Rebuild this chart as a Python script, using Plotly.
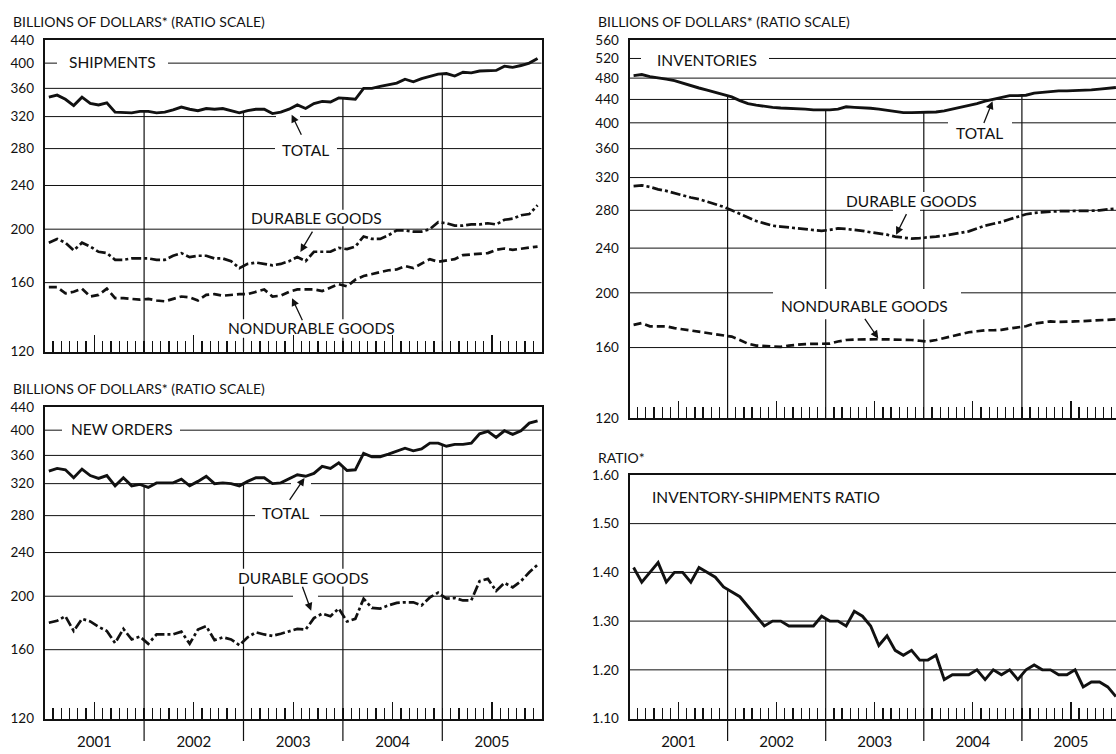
import numpy as np
import plotly.graph_objects as go

W, H = 1116, 754
FONT = "Lato"
BLACK = "#111111"

years = ["2001", "2002", "2003", "2004", "2005"]
year_ticks = [6, 18, 30, 42, 54]          # mid-year (July 1), month index
year_bounds = [12, 24, 36, 48]

# ---------------- data (monthly, Jan 2001 - Dec 2005), billions of dollars
ship_total = [347, 350, 344, 335, 347, 338, 336, 339, 326, 326, 325, 327,
              327, 325, 326, 329, 333, 330, 328, 331, 330, 331, 328, 325,
              328, 330, 330, 324, 326, 330, 336, 331, 338, 341, 340, 346,
              345, 344, 360, 360, 363, 366, 368, 374, 370, 375, 378, 382,
              383, 379, 385, 384, 387, 387, 388, 395, 393, 396, 400, 408]
ship_durable = [189, 192, 189, 183, 189, 186, 182, 181, 176, 176, 177, 177,
                177, 176, 176, 179, 181, 178, 179, 179, 177, 177, 175, 170,
                173, 174, 173, 172, 173, 175, 178, 175, 182, 182, 182, 185,
                184, 186, 194, 192, 192, 195, 199, 199, 198, 198, 200, 206,
                205, 203, 203, 204, 204, 205, 204, 208, 209, 212, 213, 221]
ship_nondurable = [157, 157, 153, 154, 156, 151, 152, 156, 150, 150, 149.5, 149,
                   149.5, 148.5, 148, 149.5, 151, 150.5, 148.5, 152, 152.5, 151.5, 152, 152.5,
                   152.5, 154, 155.5, 151, 151.5, 154, 155.5, 155.5, 155.5, 154.5, 157, 159,
                   157.5, 162, 164.5, 166, 167, 168.5, 169, 171.5, 170, 173, 176.5, 174.5,
                   175.5, 176.5, 179.5, 180, 180.5, 181, 183.5, 184.5, 183.5, 184.5, 185, 186]
orders_total = [337, 341, 339, 328, 340, 331, 327, 331, 317, 328, 317, 319,
                315, 321, 321, 321, 326, 317, 323, 330, 320, 321, 320, 317,
                323, 328, 328, 320, 321, 326, 332, 330, 334, 344, 341, 349,
                338, 339, 363, 358, 358, 362, 367, 371, 367, 370, 379, 379,
                374, 377, 377, 379, 394, 398, 388, 399, 393, 399, 412, 416]
orders_durable = [179, 180.5, 184, 173, 182, 180, 176, 173, 164.5, 174.5, 167, 169,
                  164, 170.5, 170.5, 170.5, 172.5, 164, 174, 176.5, 166.5, 168.5, 167, 163,
                  168.5, 172, 170.5, 169.5, 171, 172.5, 174.5, 174, 182.5, 186, 184, 190,
                  180, 182, 198, 190.5, 190, 192.5, 194.5, 195, 195, 192.5, 199, 203,
                  198, 198.5, 196.5, 196.5, 213, 215, 204.5, 211.5, 207.5, 213, 221, 228]
inv_total = [485, 487, 483, 481, 478, 475, 470, 465, 461, 457, 453, 448,
             444.6, 438, 432.6, 430, 427.6, 426, 425, 424.5, 424.5, 423, 421.6, 421.6,
             421.6, 423, 427, 426, 425.6, 424.5, 423, 421, 419, 417, 417, 417,
             417, 418, 420, 423, 426, 430, 432.6, 437, 440, 443, 447, 447,
             447.6, 451.6, 453, 454.6, 455.6, 455.6, 456, 457.5, 457.5, 459, 461, 462]
inv_durable = [309, 310, 308, 305, 303, 300, 297.5, 295, 293, 290, 287, 284,
               280, 276, 272, 268, 265.5, 263, 262, 261, 260.5, 259.5, 258.5, 257.5,
               258.5, 260, 259.5, 258.7, 257.5, 256, 255, 253.5, 251.5, 250.5, 249.5, 250,
               250.5, 251.5, 252.5, 254, 255, 257, 260, 263, 265, 267, 270, 273,
               275.5, 277, 278, 278.5, 279, 279, 279, 279, 279.5, 280, 281, 282]
inv_nondurable = [175.5, 176.8, 174.5, 174.4, 174.4, 173.2, 172.3, 171.5, 170.7, 169.8, 168.8, 168,
                  167.3, 165, 162.5, 161.3, 161, 160.7, 160.4, 161.3, 162, 162.3, 162.4, 162.4,
                  162.6, 164, 165, 165.3, 165.5, 165.6, 165.5, 165.4, 165.4, 165.4, 165, 164.5,
                  164, 165, 166.3, 167.5, 168.8, 170.3, 171, 171.7, 171.7, 172, 173, 173.8,
                  174.5, 176.5, 177.3, 178, 177.6, 177.6, 178, 178.2, 178.5, 178.8, 179.1, 179.5]
is_ratio = [1.41, 1.38, 1.40, 1.42, 1.38, 1.40, 1.40, 1.38, 1.41, 1.40, 1.39, 1.37,
            1.36, 1.35, 1.33, 1.31, 1.29, 1.30, 1.30, 1.29, 1.29, 1.29, 1.29, 1.31,
            1.30, 1.30, 1.29, 1.32, 1.31, 1.29, 1.25, 1.27, 1.24, 1.23, 1.24, 1.22,
            1.22, 1.23, 1.18, 1.19, 1.19, 1.19, 1.20, 1.18, 1.20, 1.19, 1.20, 1.18,
            1.20, 1.21, 1.20, 1.20, 1.19, 1.19, 1.20, 1.165, 1.175, 1.175, 1.165, 1.145]

dollar_ticks_left = [120, 160, 200, 240, 280, 320, 360, 400, 440]
dollar_ticks_right = [120, 160, 200, 240, 280, 320, 360, 400, 440, 480, 520, 560]
ratio_ticks = [1.10, 1.20, 1.30, 1.40, 1.50, 1.60]

months = [i + 0.5 for i in range(60)]

# ---------------- panel geometry (pixels in the 1116 x 754 page)
R_END = (1116 - 629.5) / 8.175          # months visible in the (cut-off) right panels
P = {
    "TL": dict(xa="x", ya="y", x0=44.7, x1=541.7, y0=33, y1=351, lo=120, hi=440, log=True, xr=60),
    "BL": dict(xa="x2", ya="y2", x0=44.7, x1=541.7, y0=408, y1=726, lo=120, hi=440, log=True, xr=60),
    "TR": dict(xa="x3", ya="y3", x0=629.5, x1=1116, y0=33, y1=419, lo=120, hi=560, log=True, xr=R_END),
    "BR": dict(xa="x4", ya="y4", x0=629.5, x1=1116, y0=477, y1=726, lo=1.10, hi=1.60, log=False, xr=R_END),
}


def px(x):
    return x / W


def py(y):
    return 1 - y / H


def xm(p, xpx):
    g = P[p]
    return (xpx - g["x0"]) / (g["x1"] - g["x0"]) * g["xr"]


def yv(p, ypx):
    g = P[p]
    f = (g["y1"] - ypx) / (g["y1"] - g["y0"])
    if g["log"]:
        return g["lo"] * (g["hi"] / g["lo"]) ** f
    return g["lo"] + f * (g["hi"] - g["lo"])


fig = go.Figure()

# ---------------- grid lines (with the gaps left around labels / arrows), as traces
grid_ticks = {"TL": dollar_ticks_left, "BL": dollar_ticks_left, "TR": dollar_ticks_right, "BR": ratio_ticks}
grid_gaps = {
    ("TL", 400): [(57, 168)], ("TL", 280): [(275, 337)], ("TL", 320): [(276, 300)],
    ("BL", 400): [(62, 180)], ("BL", 280): [(255, 320)], ("BL", 200): [(293, 318)],
    ("BL", 320): [(291, 311)],
    ("TR", 520): [(641, 769)], ("TR", 400): [(948, 1012)], ("TR", 280): [(893, 920)],
    ("TR", 200): [(773, 961)],
}
# divider gaps (pixel y-ranges) behind labels
div_gaps = {
    ("TL", 24): [(318, 337)], ("TL", 36): [(206, 223), (318, 337)],
    ("BL", 24): [(573, 591)], ("BL", 36): [(573, 591)],
    ("TR", 24): [(287, 318)], ("TR", 36): [(188, 206), (287, 318)],
}
top_series = {"TL": ship_total, "BL": orders_total, "TR": inv_total, "BR": is_ratio}

for p, g in P.items():
    gx, gy = [], []
    for v in grid_ticks[p][1:-1]:
        cuts = [0]
        for a, b in sorted(grid_gaps.get((p, v), [])):
            cuts += [xm(p, a), xm(p, b)]
        cuts.append(g["xr"])
        for a, b in zip(cuts[0::2], cuts[1::2]):
            gx += [a, b, None]
            gy += [v, v, None]
    fig.add_trace(go.Scatter(x=gx, y=gy, mode="lines", line=dict(color=BLACK, width=1),
                             xaxis=g["xa"], yaxis=g["ya"], hoverinfo="skip", showlegend=False))
    dx, dy = [], []
    top = top_series[p]
    for k in year_bounds:
        if g["log"]:
            vtop = float(np.sqrt(top[k - 1] * top[k]))
        else:
            vtop = (top[k - 1] + top[k]) / 2
        cuts = [g["lo"]]
        for a, b in sorted(div_gaps.get((p, k), []), reverse=True):
            cuts += [yv(p, b), yv(p, a)]
        cuts.append(vtop)
        for a, b in zip(cuts[0::2], cuts[1::2]):
            if a < vtop:
                dx += [k, k, None]
                dy += [a, min(b, vtop), None]
    fig.add_trace(go.Scatter(x=dx, y=dy, mode="lines", line=dict(color=BLACK, width=1.2),
                             xaxis=g["xa"], yaxis=g["ya"], hoverinfo="skip", showlegend=False))

# ---------------- data lines
total_style = dict(color=BLACK, width=2.9)
dur_style = dict(color=BLACK, width=2.7, dash="10px,3px,3px,3px")
nondur_style = dict(color=BLACK, width=2.7, dash="8px,4px")
series = [
    ("TL", ship_total, total_style), ("TL", ship_durable, dur_style), ("TL", ship_nondurable, nondur_style),
    ("BL", orders_total, total_style), ("BL", orders_durable, dur_style),
    ("TR", inv_total, total_style), ("TR", inv_durable, dur_style), ("TR", inv_nondurable, nondur_style),
    ("BR", is_ratio, total_style),
]
for p, vals, style in series:
    fig.add_trace(go.Scatter(x=months, y=vals, mode="lines", line=style,
                             xaxis=P[p]["xa"], yaxis=P[p]["ya"], hoverinfo="skip", showlegend=False))

# divider extensions below the bottom axes
shapes = []
for p in ("BL", "BR"):
    for k in year_bounds:
        shapes.append(dict(type="line", xref=P[p]["xa"], yref="paper", x0=k, x1=k,
                           y0=py(749), y1=py(726), line=dict(color=BLACK, width=1.2), layer="above"))
fig.update_layout(shapes=shapes)


def xaxis(p, labels):
    g = P[p]
    return dict(domain=[px(g["x0"]), min(1.0, px(g["x1"]))], range=[0, g["xr"]], anchor=g["ya"],
                showgrid=False, zeroline=False,
                showline=True, linecolor=BLACK, linewidth=2, mirror=True,
                tickmode="array", tickvals=year_ticks, ticktext=years,
                ticks="inside", ticklen=17, tickwidth=1.3, tickcolor=BLACK,
                showticklabels=labels, ticklabelstandoff=8,
                tickfont=dict(family=FONT, size=15, color=BLACK),
                minor=dict(tickmode="linear", tick0=0, dtick=1, ticks="inside", ticklen=11,
                           tickwidth=1.3, tickcolor=BLACK, showgrid=False),
                fixedrange=True)


def yaxis(p, vals, text, mirror):
    g = P[p]
    if g["log"]:
        rng, typ = [np.log10(g["lo"]), np.log10(g["hi"])], "log"
    else:
        rng, typ = [g["lo"], g["hi"]], "linear"
    return dict(domain=[py(g["y1"]), py(g["y0"])], type=typ, range=rng, anchor=g["xa"],
                tickmode="array", tickvals=vals, ticktext=text,
                showgrid=False, zeroline=False,
                showline=True, linecolor=BLACK, linewidth=2, mirror=mirror, ticks="",
                ticklabelstandoff=6, tickfont=dict(family=FONT, size=13.5, color=BLACK),
                fixedrange=True)


fig.update_layout(
    width=W, height=H, margin=dict(l=0, r=0, t=0, b=0),
    paper_bgcolor="white", plot_bgcolor="white",
    font=dict(family=FONT, color=BLACK),
    showlegend=False,
    xaxis=xaxis("TL", False),
    xaxis2=xaxis("BL", True),
    xaxis3=xaxis("TR", False),
    xaxis4=xaxis("BR", True),
    yaxis=yaxis("TL", dollar_ticks_left, [str(v) for v in dollar_ticks_left], True),
    yaxis2=yaxis("BL", dollar_ticks_left, [str(v) for v in dollar_ticks_left], True),
    yaxis3=yaxis("TR", dollar_ticks_right, [str(v) for v in dollar_ticks_right], False),
    yaxis4=yaxis("BR", ratio_ticks, [f"{v:.2f}" for v in ratio_ticks], False),
)


# ---------------- arrows (tip on the series)
def arrow(p, vals, i, ax, ay, standoff):
    v = vals[i]
    fig.add_annotation(x=i + 0.5, y=np.log10(v) if P[p]["log"] else v,
                       xref=P[p]["xa"], yref=P[p]["ya"],
                       ax=ax, ay=ay, text="", showarrow=True, arrowhead=2, arrowsize=1.2,
                       arrowwidth=1.3, arrowcolor=BLACK, standoff=standoff)


arrow("TL", ship_total, 29, 13, 27, 6)
arrow("TL", ship_durable, 30, 16, -27, 6)
arrow("TL", ship_nondurable, 29, 14, 30, 7)
arrow("BL", orders_total, 31, -17, 25, 2)
arrow("BL", orders_durable, 32, -12, -33, 8)
arrow("TR", inv_total, 44, -10, 25, 2)
arrow("TR", inv_durable, 32, 12, -24, 2)
arrow("TR", inv_nondurable, 30, -15, -22, 1)


# ---------------- texts
def text(s, x, y, size=15.5, anchor="center"):
    fig.add_annotation(x=px(x), y=py(y), xref="paper", yref="paper", text=s, showarrow=False,
                       xanchor=anchor, yanchor="middle", borderpad=0,
                       font=dict(family=FONT, size=size, color=BLACK))


title = "BILLIONS OF DOLLARS* (RATIO SCALE)"
text(title, 12, 14, 14, "left")
text(title, 12, 389, 14, "left")
text(title, 597, 14, 14, "left")
text("RATIO*", 597, 459, 14, "left")

text("SHIPMENTS", 112.5, 55)
text("TOTAL", 305.5, 145)
text("DURABLE GOODS", 316, 215)
text("NONDURABLE GOODS", 312, 327)
text("NEW ORDERS", 121.5, 430)
text("TOTAL", 285.5, 516)
text("DURABLE GOODS", 303.5, 582)
text("INVENTORIES", 707, 53)
text("TOTAL", 979, 128)
text("DURABLE GOODS", 911, 197)
text("NONDURABLE GOODS", 864, 304)
text("INVENTORY-SHIPMENTS RATIO", 651, 500, 15.5, "left")

fig.write_html("out.html", config={"displayModeBar": False, "staticPlot": True},
               post_script="document.body.style.margin='0';document.body.style.overflow='hidden';")
